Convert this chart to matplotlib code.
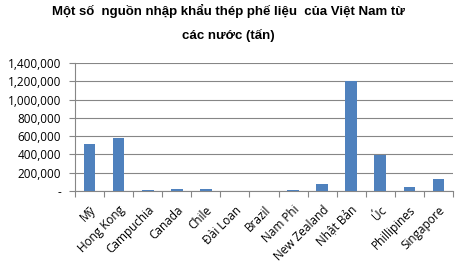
import numpy as np
import matplotlib.pyplot as plt
from matplotlib.ticker import FuncFormatter, FixedLocator

countries = ["Mỹ", "Hong Kong", "Campuchia", "Canada", "Chile", "Đài Loan", "Brazil",
             "Nam Phi", "New Zealand", "Nhật Bản", "Úc", "Phillipines", "Singapore"]
tonnes = [514000, 580000, 10000, 25000, 25000, 0, 0,
          10000, 80000, 1200000, 397000, 47000, 135000]
title = "Một số  nguồn nhập khẩu thép phế liệu  của Việt Nam từ\ncác nước (tấn)"

plt.rcParams['font.family'] = ['Open Sans', 'DejaVu Sans']

fig = plt.figure(figsize=(4.63, 2.73), dpi=100)
ax = fig.add_axes([75 / 463, 1 - 191 / 273, 378 / 463, 128 / 273])

x = np.arange(len(countries))
ax.bar(x, tonnes, width=0.4, color="#4F81BD", zorder=3)

ax.set_xlim(-0.5, len(countries) - 0.5)
ax.set_ylim(0, 1400000)
ax.set_yticks(np.arange(0, 1400001, 200000))
ax.yaxis.set_major_formatter(FuncFormatter(lambda v, p: "-" if v == 0 else f"{int(v):,}"))
ax.grid(axis="y", color="#868686", linewidth=0.8, zorder=0)

ax.xaxis.set_major_locator(FixedLocator(np.arange(-0.5, len(countries), 1)))
ax.set_xticklabels([])
ax.xaxis.set_minor_locator(FixedLocator(x))
ax.set_xticklabels(countries, minor=True, rotation=45, ha="right", rotation_mode="anchor",
                   fontsize=8.5)
ax.tick_params(axis="x", which="major", length=4, color="#868686")
ax.tick_params(axis="x", which="minor", length=0, pad=9)
ax.tick_params(axis="y", length=4, color="#868686", labelsize=8.5, pad=6)

for s in ["top", "right"]:
    ax.spines[s].set_visible(False)
for s in ["left", "bottom"]:
    ax.spines[s].set_color("#868686")

fig.text(0.493, 0.985, title, ha="center", va="top", fontsize=9.5, fontweight="bold",
         family=["Liberation Sans", "DejaVu Sans"], linespacing=2.1)

fig.savefig("out.png", dpi=100)
